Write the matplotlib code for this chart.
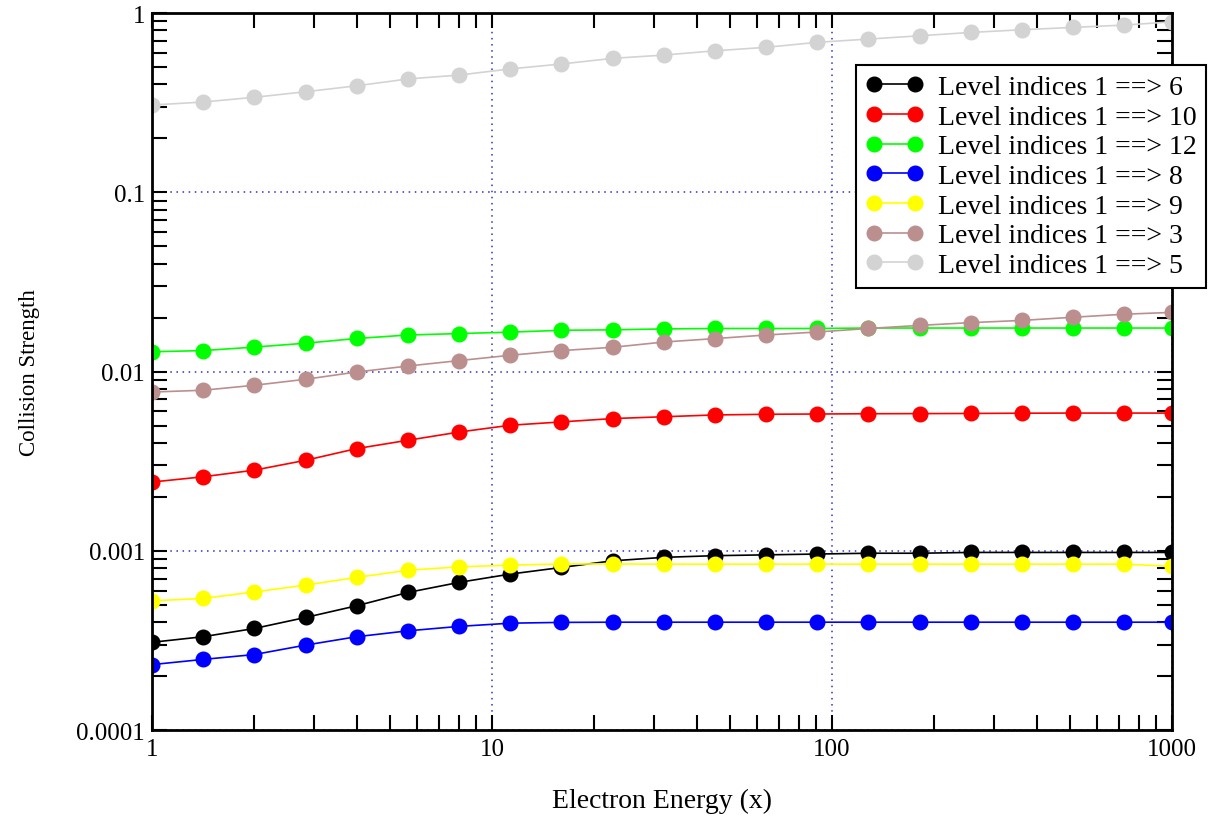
import numpy as np
import matplotlib
matplotlib.use("Agg")
import matplotlib.pyplot as plt
from matplotlib.ticker import LogLocator, FuncFormatter, NullFormatter

plt.rcParams['font.family'] = ['Liberation Serif', 'DejaVu Serif']

# Electron energy grid (x)
energy = [1, 1.414, 2, 2.828, 4, 5.657, 8, 11.31, 16, 22.63, 32, 45.25,
          64, 90.51, 128, 181, 256, 362, 512, 724, 1000]

# Collision strengths
lvl_6 = [0.000309, 0.000332, 0.000369, 0.000425, 0.000494, 0.000586, 0.000667,
         0.000742, 0.000808, 0.00088, 0.00092, 0.00094, 0.00095, 0.00096,
         0.00097, 0.00097, 0.00098, 0.00098, 0.00098, 0.00098, 0.00098]
lvl_10 = [0.00242, 0.00259, 0.00282, 0.0032, 0.00372, 0.00414, 0.0046,
          0.00502, 0.00524, 0.00547, 0.0056, 0.00573, 0.00578, 0.0058,
          0.00582, 0.00583, 0.00584, 0.00586, 0.00587, 0.00587, 0.00587]
lvl_12 = [0.0129, 0.0131, 0.0137, 0.0144, 0.0153, 0.0160, 0.0163, 0.0166,
          0.0170, 0.0171, 0.0173, 0.0174, 0.0174, 0.0174, 0.0175, 0.0175,
          0.0175, 0.0175, 0.0175, 0.0175, 0.0175]
lvl_8 = [0.000232, 0.000248, 0.000264, 0.000298, 0.000332, 0.000358, 0.000379,
         0.000395, 0.000399, 0.0004, 0.0004, 0.0004, 0.0004, 0.0004, 0.0004,
         0.0004, 0.0004, 0.0004, 0.0004, 0.0004, 0.0004]
lvl_9 = [0.000526, 0.000543, 0.00059, 0.000644, 0.000711, 0.00078, 0.000814,
         0.000832, 0.000845, 0.000845, 0.000843, 0.000843, 0.000843, 0.000843,
         0.000843, 0.000843, 0.000843, 0.000843, 0.000843, 0.000843, 0.00082]
lvl_3 = [0.00769, 0.00787, 0.00839, 0.00906, 0.00995, 0.01074, 0.01152,
         0.01233, 0.0131, 0.01366, 0.01462, 0.01528, 0.016, 0.01663, 0.0174,
         0.0181, 0.01876, 0.0193, 0.0201, 0.0209, 0.0214]
lvl_5 = [0.307, 0.319, 0.339, 0.364, 0.393, 0.429, 0.451, 0.488, 0.52, 0.559,
         0.583, 0.616, 0.644, 0.687, 0.716, 0.747, 0.78, 0.807, 0.832, 0.857,
         0.894]

series = [
    (lvl_6, 'black', 'Level indices 1 ==> 6'),
    (lvl_10, '#ff0000', 'Level indices 1 ==> 10'),
    (lvl_12, '#00ff00', 'Level indices 1 ==> 12'),
    (lvl_8, '#0000ff', 'Level indices 1 ==> 8'),
    (lvl_9, '#ffff00', 'Level indices 1 ==> 9'),
    (lvl_3, '#bc8f8f', 'Level indices 1 ==> 3'),
    (lvl_5, '#d3d3d3', 'Level indices 1 ==> 5'),
]

fig = plt.figure(figsize=(12.19, 8.28), dpi=100)
ax = fig.add_axes([0.1247, 0.117, 0.8367, 0.866])

for vals, col, lab in series:
    ax.plot(energy, vals, color=col, lw=1.2, marker='o', ms=10.5,
            markeredgecolor=col, label=lab)

ax.set_xscale('log')
ax.set_yscale('log')
ax.set_xlim(1, 1000)
ax.set_ylim(1e-4, 1)

fmt = FuncFormatter(lambda v, p: '%g' % v)
ax.xaxis.set_major_locator(LogLocator(base=10))
ax.yaxis.set_major_locator(LogLocator(base=10))
ax.xaxis.set_major_formatter(fmt)
ax.yaxis.set_major_formatter(fmt)
ax.xaxis.set_minor_formatter(NullFormatter())
ax.yaxis.set_minor_formatter(NullFormatter())

ax.tick_params(which='both', direction='in', top=True, right=True,
               length=11, width=1.5, labelsize=18)
ax.tick_params(axis='x', pad=6)
ax.tick_params(axis='y', pad=5)

for s in ax.spines.values():
    s.set_linewidth(2)

ax.grid(True, which='major', color='#3030c0', linestyle=(0, (1, 3)), lw=1.1)

ax.set_xlabel('Electron Energy (x)', fontsize=20, labelpad=20)
ax.set_ylabel('Collision Strength', fontsize=16.5, labelpad=26)

leg = ax.legend(loc='upper right', bbox_to_anchor=(1206 / 1219, 1 - 66 / 828),
                bbox_transform=fig.transFigure, fontsize=20, numpoints=2,
                handlelength=2.1, handletextpad=0.5, labelspacing=0.15,
                borderpad=0.35, borderaxespad=0, fancybox=False, framealpha=1)
leg.get_frame().set_edgecolor('black')
leg.get_frame().set_linewidth(1.5)

fig.savefig('out.png', dpi=100)
